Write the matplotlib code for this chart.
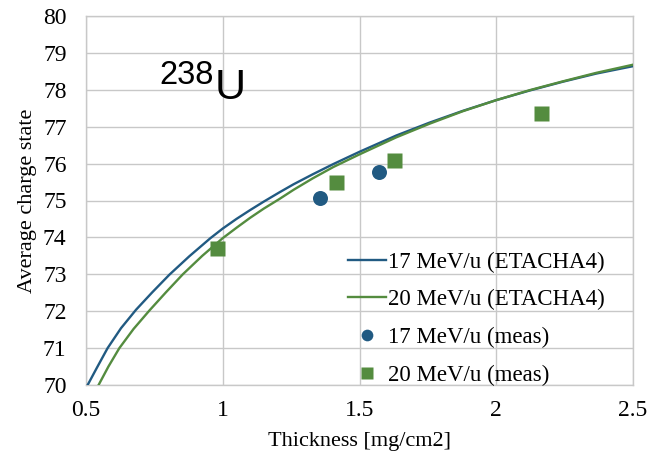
import matplotlib
matplotlib.use("Agg")
import matplotlib.pyplot as plt

# ETACHA4 curves
x_17_calc = [0.506, 0.540, 0.579, 0.628, 0.683, 0.742, 0.805, 0.878, 0.955, 1.000,
             1.050, 1.100, 1.150, 1.207, 1.259, 1.329, 1.405, 1.500, 1.634, 1.756,
             1.878, 2.000, 2.122, 2.244, 2.366, 2.500]
y_17_calc = [70.00, 70.47, 71.00, 71.54, 72.04, 72.51, 72.99, 73.49, 73.98, 74.24,
             74.50, 74.74, 74.97, 75.22, 75.44, 75.71, 75.99, 76.32, 76.76, 77.11,
             77.43, 77.72, 77.98, 78.22, 78.44, 78.64]

x_20_calc = [0.546, 0.582, 0.622, 0.674, 0.732, 0.792, 0.854, 0.925, 1.000, 1.050,
             1.100, 1.150, 1.207, 1.259, 1.329, 1.405, 1.500, 1.634, 1.756, 1.878,
             2.000, 2.122, 2.244, 2.366, 2.500]
y_20_calc = [70.00, 70.50, 71.00, 71.52, 72.02, 72.51, 73.00, 73.50, 73.98, 74.26,
             74.53, 74.78, 75.04, 75.29, 75.60, 75.91, 76.25, 76.71, 77.08, 77.42,
             77.72, 77.99, 78.23, 78.46, 78.68]

# measurements
x_17_meas = [1.356, 1.572]
y_17_meas = [75.06, 75.77]
x_20_meas = [0.979, 1.414, 1.625, 2.163]
y_20_meas = [73.71, 75.51, 76.10, 77.36]

xticks = [0.5, 1, 1.5, 2, 2.5]
xtick_labels = ["0.5", "1", "1.5", "2", "2.5"]
yticks = list(range(70, 81))

blue = "#215a82"
green = "#548c3f"
grid_gray = "#c8c8c8"

fig = plt.figure(figsize=(6.48, 4.59), dpi=100)
ax = fig.add_axes([86 / 648, 74 / 459, 547 / 648, 369 / 459])

ax.plot(x_17_calc, y_17_calc, color=blue, lw=1.7, label="17 MeV/u (ETACHA4)", zorder=3)
ax.plot(x_20_calc, y_20_calc, color=green, lw=1.7, label="20 MeV/u (ETACHA4)", zorder=3)
ax.plot(x_17_meas, y_17_meas, "o", color=blue, ms=10.8, mec="none",
        label="17 MeV/u (meas)", zorder=4)
ax.plot(x_20_meas, y_20_meas, "s", color=green, ms=10.8, mec="none",
        label="20 MeV/u (meas)", zorder=4)

ax.set_xlim(0.5, 2.5)
ax.set_ylim(70, 80)
ax.set_xticks(xticks)
ax.set_xticklabels(xtick_labels)
ax.set_yticks(yticks)
ax.grid(True, color=grid_gray, lw=1.0)
ax.set_axisbelow(True)
for s in ax.spines.values():
    s.set_color(grid_gray)
    s.set_linewidth(1.0)

serif = "Liberation Serif"
ax.tick_params(length=0, labelsize=17, colors="black")
ax.tick_params(axis="y", pad=14)
ax.tick_params(axis="x", pad=11)
for lab in ax.get_xticklabels() + ax.get_yticklabels():
    lab.set_fontfamily(serif)

ax.set_xlabel("Thickness [mg/cm2]", fontsize=16, fontfamily=serif, va="center")
ax.xaxis.set_label_coords(0.5, -0.152)
ax.set_ylabel("Average charge state", fontsize=16, fontfamily=serif, va="center")
ax.yaxis.set_label_coords(-0.107, 0.5)

# isotope label
ax.text(0.135, 0.816, "238", transform=ax.transAxes, fontsize=23.5,
        fontfamily="Liberation Sans", ha="left", va="baseline")
ax.text(0.236, 0.774, "U", transform=ax.transAxes, fontsize=31,
        fontfamily="Liberation Sans", ha="left", va="baseline")

ax.legend(loc="upper left", bbox_to_anchor=(0.479, 0.362), frameon=False,
          prop={"family": serif, "size": 16.5}, borderpad=0, borderaxespad=0,
          handlelength=1.66, handletextpad=0.1, labelspacing=0.73,
          markerscale=0.78)

fig.savefig("out.png", dpi=100)
